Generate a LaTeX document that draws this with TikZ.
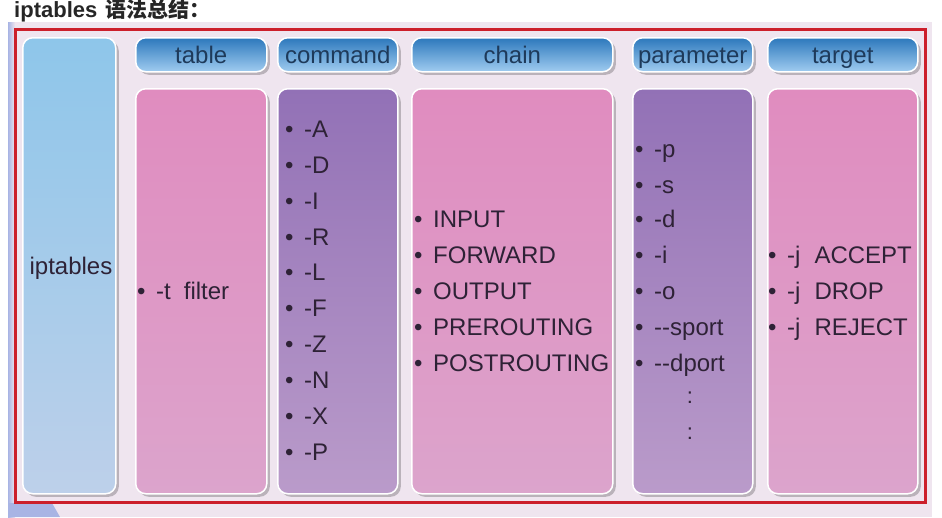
\documentclass[tikz,border=0pt]{standalone}
\usepackage{fontspec}
\setmainfont{Liberation Sans}
\newfontfamily\cjk{Noto Sans CJK SC}
\usetikzlibrary{shadows}
\definecolor{bgl}{HTML}{EFE5EF}
\definecolor{redb}{HTML}{CC1F2B}
\definecolor{pinkT}{HTML}{E08CBF}
\definecolor{pinkB}{HTML}{DCA4CC}
\definecolor{purT}{HTML}{9271B6}
\definecolor{purB}{HTML}{BA9BCA}
\definecolor{bluT}{HTML}{8EC6EA}
\definecolor{bluB}{HTML}{BDD0EA}
\definecolor{hdT}{HTML}{2C78BC}
\definecolor{hdB}{HTML}{A0CCF0}
\definecolor{txt}{HTML}{2E2236}
\definecolor{hdtxt}{HTML}{1E3A5A}
\definecolor{cornb}{HTML}{A8B4E4}
\newcommand{\bul}{\makebox[19pt][l]{•}}
\tikzset{
  panel/.style={rounded corners=10pt, draw=white, line width=1.5pt, inner sep=0pt,
    drop shadow={shadow xshift=3pt, shadow yshift=-3pt, fill=black, opacity=0.22}},
  pinkbox/.style={panel, top color=pinkT, bottom color=pinkB},
  purbox/.style={panel, top color=purT, bottom color=purB},
  blubox/.style={panel, top color=bluT, bottom color=bluB},
  hdbox/.style={panel, top color=hdT, bottom color=hdB, text=hdtxt,
    text height=20pt, text depth=2pt,
    font=\fontsize{24}{28}\selectfont},
  itm/.style={anchor=base west, inner sep=0pt, text=txt, font=\fontsize{24}{28}\selectfont},
}
\begin{document}
\begin{tikzpicture}[x=1pt,y=-1pt]
\useasboundingbox (0,0) rectangle (942,517);
% background
\fill[bgl] (8,22) rectangle (932,517);
\fill[left color=cornb, right color=bgl] (8,22) rectangle (15,517);
\fill[cornb] (8,503) -- (52,503) -- (60,517) -- (8,517) -- cycle;
% title
\node[anchor=base west, inner sep=0pt, text=black!85] (title) at (14,17)
  {\bfseries\fontsize{22}{26}\selectfont iptables\hspace{8pt}{\cjk\bfseries\fontsize{21}{24}\selectfont 语法总结：}};
% red border
\draw[redb, line width=3pt] (15,29) rectangle (925,502);
% left column
\node[blubox, minimum width=93pt, minimum height=456pt, anchor=north west] (ipt) at (22,37) {};
\node[itm, anchor=center] (iptxt) at (71,268) {iptables};
% headers
\node[hdbox, minimum width=131pt, minimum height=34pt, anchor=north west] (htable) at (135,37) {table};
\node[hdbox, minimum width=120pt, minimum height=34pt, anchor=north west] (hcmd) at (277,37) {command};
\node[hdbox, minimum width=201pt, minimum height=34pt, anchor=north west] (hchain) at (411,37) {chain};
\node[hdbox, minimum width=120pt, minimum height=34pt, anchor=north west] (hpar) at (632,37) {parameter};
\node[hdbox, minimum width=150pt, minimum height=34pt, anchor=north west] (htgt) at (767,37) {target};
% bodies
\node[pinkbox, minimum width=131pt, minimum height=405pt, anchor=north west] (btable) at (135,88) {};
\node[purbox, minimum width=120pt, minimum height=405pt, anchor=north west] (bcmd) at (277,88) {};
\node[pinkbox, minimum width=201pt, minimum height=405pt, anchor=north west] (bchain) at (411,88) {};
\node[purbox, minimum width=120pt, minimum height=405pt, anchor=north west] (bpar) at (632,88) {};
\node[pinkbox, minimum width=150pt, minimum height=405pt, anchor=north west] (btgt) at (767,88) {};
% table
\node[itm] (t1) at (137,299) {\bul -t\hspace{13pt}filter};
% command
\node[itm] (c1) at (285,137) {\bul -A};
\node[itm] (c2) at (285,173) {\bul -D};
\node[itm] (c3) at (285,209) {\bul -I};
\node[itm] (c4) at (285,245) {\bul -R};
\node[itm] (c5) at (285,280) {\bul -L};
\node[itm] (c6) at (285,316) {\bul -F};
\node[itm] (c7) at (285,352) {\bul -Z};
\node[itm] (c8) at (285,388) {\bul -N};
\node[itm] (c9) at (285,424) {\bul -X};
\node[itm] (c10) at (285,460) {\bul -P};
% chain
\node[itm] (h1) at (414,227) {\bul INPUT};
\node[itm] (h2) at (414,263) {\bul FORWARD};
\node[itm] (h3) at (414,299) {\bul OUTPUT};
\node[itm] (h4) at (414,335) {\bul PREROUTING};
\node[itm] (h5) at (414,371) {\bul POSTROUTING};
% parameter
\node[itm] (p1) at (635,157) {\bul -p};
\node[itm] (p2) at (635,193) {\bul -s};
\node[itm] (p3) at (635,227) {\bul -d};
\node[itm] (p4) at (635,263) {\bul -i};
\node[itm] (p5) at (635,299) {\bul -o};
\node[itm] (p6) at (635,335) {\bul {-}{-}sport};
\node[itm] (p7) at (635,371) {\bul {-}{-}dport};
\node[itm, anchor=center, font=\fontsize{22}{26}\selectfont] (p8) at (690,398) {:};
\node[itm, anchor=center, font=\fontsize{22}{26}\selectfont] (p9) at (690,434) {:};
% target
\node[itm] (g1) at (768,263) {\bul -j\hspace{14pt}ACCEPT};
\node[itm] (g2) at (768,299) {\bul -j\hspace{14pt}DROP};
\node[itm] (g3) at (768,335) {\bul -j\hspace{14pt}REJECT};
\end{tikzpicture}
\end{document}
